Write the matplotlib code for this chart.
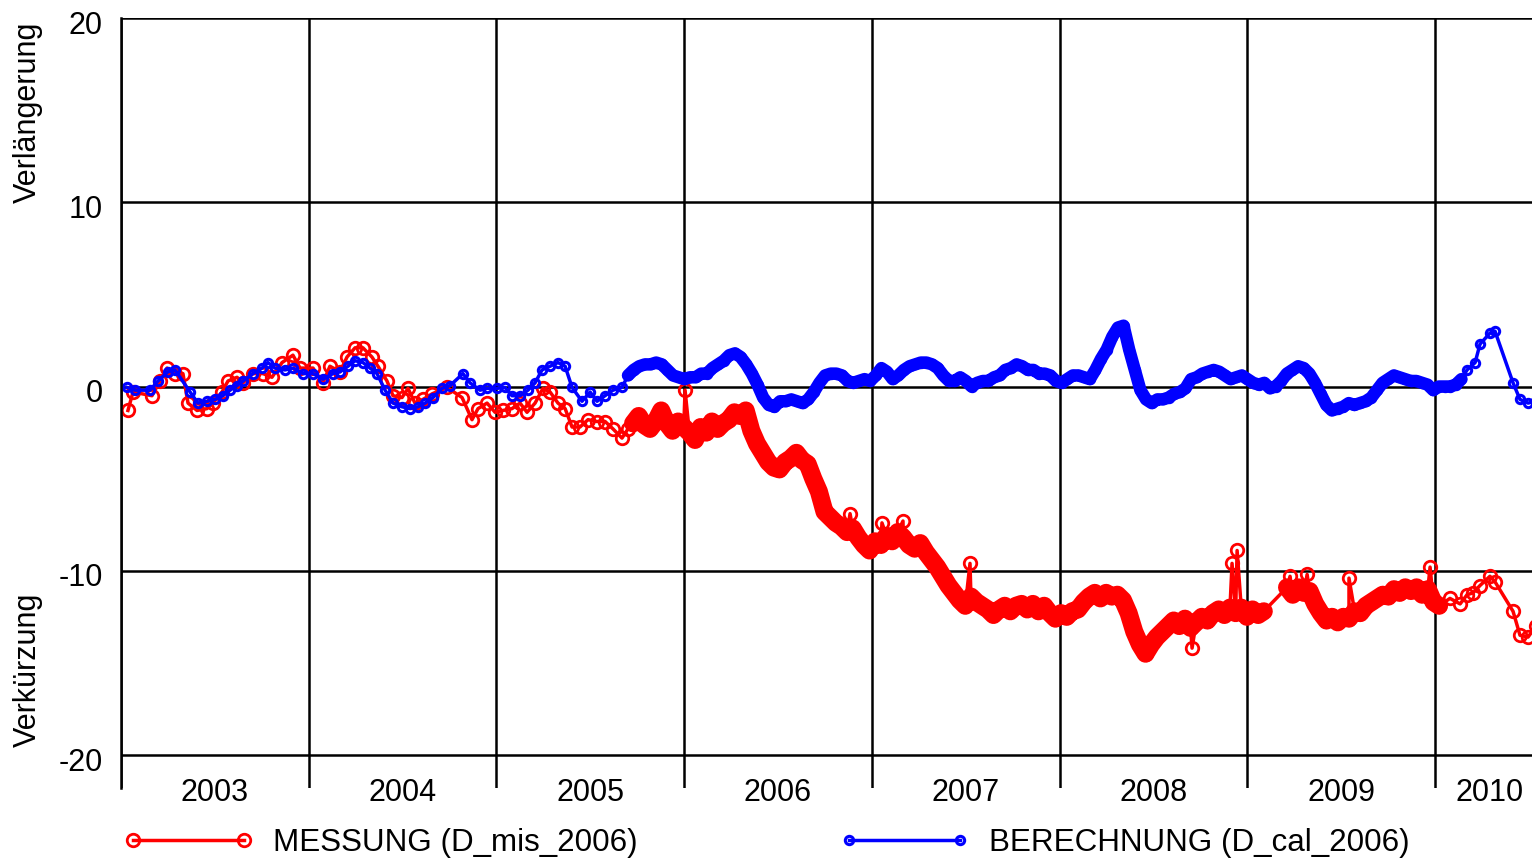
import numpy as np
import matplotlib
matplotlib.use('Agg')
import matplotlib.pyplot as plt
from matplotlib.transforms import ScaledTranslation

plt.rcParams['font.family'] = ['Liberation Sans', 'DejaVu Sans']

# Measured displacement (MESSUNG), sparse early readings (decimal year, value)
red_sparse_t = [2003.037, 2003.064, 2003.165, 2003.208, 2003.245, 2003.288, 2003.330, 2003.357,
                2003.405, 2003.458, 2003.490, 2003.538, 2003.570, 2003.618, 2003.650, 2003.703,
                2003.757, 2003.804, 2003.858, 2003.916, 2003.954, 2004.023, 2004.076, 2004.113,
                2004.167, 2004.204, 2004.247, 2004.289, 2004.337, 2004.369, 2004.417, 2004.449,
                2004.497, 2004.529, 2004.566, 2004.609, 2004.657, 2004.737, 2004.817, 2004.870,
                2004.902, 2004.950, 2004.993, 2005.035, 2005.083, 2005.126, 2005.163, 2005.206,
                2005.248, 2005.286, 2005.328, 2005.366, 2005.403, 2005.445, 2005.488, 2005.536,
                2005.579, 2005.621, 2005.669, 2005.701]
red_sparse_v = [-1.3, -0.3, -0.5, 0.3, 1.0, 0.7, 0.7, -0.9,
                -1.3, -1.2, -0.9, -0.3, 0.3, 0.5, 0.2, 0.7,
                0.7, 0.5, 1.3, 1.7, 1.0, 1.0, 0.2, 1.1,
                0.8, 1.6, 2.1, 2.1, 1.6, 1.1, 0.3, -0.5,
                -0.6, -0.1, -0.9, -0.7, -0.4, -0.05, -0.6, -1.8,
                -1.2, -0.9, -1.4, -1.3, -1.2, -0.9, -1.4, -0.9,
                -0.1, -0.3, -0.9, -1.2, -2.2, -2.2, -1.8, -1.9,
                -1.9, -2.3, -2.8, -2.3]

# dense (near-daily) measurement period, sampled every 0.03 yr
step = 0.03
red_dense1_start = 2005.728
red_dense1_v = [-2.0, -1.6, -2.1, -2.3, -1.9, -1.3, -2.0, -2.4, -1.9, -2.2,
                -2.5, -2.9, -2.2, -2.5, -1.9, -2.3, -2.0, -1.8, -1.4, -1.6,
                -1.3, -2.4, -3.1, -3.6, -4.1, -4.4, -4.5, -4.1, -3.9, -3.6,
                -4.0, -4.2, -5.0, -5.7, -6.8, -7.1, -7.4, -7.6, -7.9, -7.7,
                -8.2, -8.6, -8.9, -8.4, -8.6, -8.1, -8.4, -7.9, -8.2, -8.6,
                -8.8, -8.5, -9.0, -9.4, -9.8, -10.3, -10.8, -11.2, -11.6, -11.9,
                -11.4, -11.7, -11.9, -12.1, -12.4, -12.1, -11.9, -12.2, -11.9, -11.8,
                -12.1, -11.8, -12.2, -11.9, -12.3, -12.6, -12.3, -12.5, -12.2, -12.1,
                -11.7, -11.4, -11.2, -11.5, -11.2, -11.4, -11.3, -11.6, -12.3, -13.3,
                -14.0, -14.5, -14.0, -13.6, -13.3, -13.0, -12.7, -13.0, -12.6, -13.1,
                -12.8, -12.5, -12.7, -12.3, -12.1, -12.4, -12.0, -12.3, -12.0, -12.5,
                -12.1, -12.4, -12.2]
red_dense2_start = 2009.212
red_dense2_v = [-10.9, -11.3, -10.9, -11.2, -11.1, -11.8, -12.3, -12.7, -12.5, -12.8,
                -12.5, -12.6, -12.2, -12.3, -11.9, -11.7, -11.5, -11.3, -11.4, -11.0,
                -11.2, -10.9, -11.1, -10.9, -11.3, -11.0, -11.7, -11.9]
red_spike_t = [2006.005, 2006.884, 2007.054, 2007.166, 2007.523, 2008.706, 2008.919,
               2008.946, 2009.228, 2009.319, 2009.542, 2009.974]
red_spike_v = [-0.2, -6.9, -7.4, -7.3, -9.6, -14.2, -9.6, -8.9, -10.3, -10.2, -10.4, -9.8]
red_tail_t = [2010.080, 2010.134, 2010.171, 2010.203, 2010.240, 2010.293, 2010.320,
              2010.416, 2010.453, 2010.496, 2010.538]
red_tail_v = [-11.5, -11.8, -11.3, -11.2, -10.8, -10.3, -10.6, -12.2, -13.5, -13.6, -13.0]

# Calculated displacement (BERECHNUNG)
blue_sparse_t = [2003.032, 2003.075, 2003.155, 2003.197, 2003.250, 2003.288, 2003.368, 2003.410,
                 2003.458, 2003.501, 2003.543, 2003.581, 2003.618, 2003.650, 2003.703, 2003.751,
                 2003.783, 2003.820, 2003.874, 2003.916, 2003.970, 2004.023, 2004.076, 2004.129,
                 2004.167, 2004.209, 2004.247, 2004.289, 2004.327, 2004.364, 2004.407, 2004.449,
                 2004.497, 2004.540, 2004.582, 2004.620, 2004.662, 2004.710, 2004.753, 2004.822,
                 2004.859, 2004.913, 2004.950, 2005.003, 2005.046, 2005.083, 2005.126, 2005.168,
                 2005.206, 2005.243, 2005.286, 2005.328, 2005.366, 2005.403, 2005.456, 2005.499,
                 2005.536, 2005.579, 2005.621, 2005.669]
blue_sparse_v = [-0.05, -0.2, -0.2, 0.3, 0.8, 0.9, -0.3, -0.9,
                 -0.8, -0.7, -0.5, -0.2, 0.05, 0.3, 0.7, 1.0,
                 1.3, 1.0, 0.9, 1.0, 0.7, 0.7, 0.4, 0.7,
                 0.8, 1.1, 1.4, 1.3, 1.0, 0.7, -0.2, -0.9,
                 -1.1, -1.2, -1.1, -0.9, -0.6, -0.1, 0.05, 0.7,
                 0.2, -0.2, -0.1, -0.1, -0.05, -0.5, -0.5, -0.2,
                 0.2, 0.9, 1.1, 1.3, 1.1, -0.05, -0.8, -0.3,
                 -0.8, -0.5, -0.2, -0.05]
blue_dense_start = 2005.701
blue_dense_v = [0.6, 0.9, 1.1, 1.2, 1.2, 1.3, 1.2, 0.9, 0.6, 0.5,
                0.4, 0.5, 0.5, 0.7, 0.7, 1.0, 1.2, 1.4, 1.7, 1.8,
                1.6, 1.2, 0.7, 0.1, -0.6, -1.0, -1.1, -0.8, -0.8, -0.7,
                -0.8, -0.9, -0.7, -0.3, 0.2, 0.6, 0.7, 0.7, 0.6, 0.3,
                0.2, 0.3, 0.4, 0.3, 0.6, 1.0, 0.8, 0.4, 0.6, 0.9,
                1.1, 1.2, 1.3, 1.3, 1.2, 1.0, 0.6, 0.3, 0.3, 0.5,
                0.3, 0.0, 0.2, 0.3, 0.3, 0.5, 0.6, 0.9, 1.0, 1.2,
                1.1, 0.9, 0.9, 0.7, 0.7, 0.6, 0.3, 0.2, 0.4, 0.6,
                0.6, 0.5, 0.4, 0.9, 1.5, 2.0, 2.7, 3.2, 3.3, 2.0,
                0.9, -0.2, -0.7, -0.9, -0.7, -0.7, -0.6, -0.4, -0.3, -0.1,
                0.4, 0.5, 0.7, 0.8, 0.9, 0.8, 0.6, 0.4, 0.5, 0.6,
                0.4, 0.2, 0.1, 0.2, -0.1, 0.0, 0.3, 0.7, 0.9, 1.1,
                1.0, 0.7, 0.2, -0.4, -1.0, -1.3, -1.2, -1.1, -0.9, -1.0,
                -0.9, -0.8, -0.6, -0.2, 0.2, 0.4, 0.6, 0.5, 0.4, 0.3,
                0.3, 0.2, 0.1, -0.2, 0.0, 0.0, 0.0, 0.1, 0.4]
blue_tail_t = [2010.171, 2010.214, 2010.240, 2010.293, 2010.320, 2010.416, 2010.453,
               2010.496, 2010.538]
blue_tail_v = [0.9, 1.3, 2.3, 2.9, 3.0, 0.2, -0.7, -0.9, -0.8]

years = [2003, 2004, 2005, 2006, 2007, 2008, 2009, 2010]
year_label_pos = [2003.5, 2004.5, 2005.5, 2006.5, 2007.5, 2008.5, 2009.5, 2010.29]
yticks = [-20, -10, 0, 10, 20]

RED = '#ff0000'
BLUE = '#0000ff'

# Assemble series
red_d1_t = red_dense1_start + step * np.arange(len(red_dense1_v))
red_d2_t = red_dense2_start + step * np.arange(len(red_dense2_v))
red_t = np.concatenate([red_sparse_t, red_d1_t, red_spike_t, red_d2_t, red_tail_t])
red_v = np.concatenate([red_sparse_v, red_dense1_v, red_spike_v, red_dense2_v, red_tail_v])
order = np.argsort(red_t)
red_t, red_v = red_t[order], red_v[order]

blue_d_t = blue_dense_start + step * np.arange(len(blue_dense_v))
blue_t = np.concatenate([blue_sparse_t, blue_d_t, blue_tail_t])
blue_v = np.concatenate([blue_sparse_v, blue_dense_v, blue_tail_v])

fig = plt.figure(figsize=(15.32, 8.63), dpi=100)
ax = fig.add_axes([121 / 1532, 1 - 788 / 863, 1 - 121 / 1532, (788 - 18) / 863])

# thick underlay where readings were near-daily (dense scatter band)
band = dict(solid_capstyle='round', solid_joinstyle='round')
ax.plot(red_d1_t, red_dense1_v, color=RED, lw=13, **band)
ax.plot(red_d2_t, red_dense2_v, color=RED, lw=13, **band)
ax.plot(red_t, red_v, color=RED, lw=2.5, marker='o', ms=9,
        mfc='none', mec=RED, mew=2.0, label='MESSUNG (D_mis_2006)')

ax.plot(blue_d_t, blue_dense_v, color=BLUE, lw=9, **band)
ax.plot(blue_t, blue_v, color=BLUE, lw=2.5, marker='o', ms=6,
        mfc='none', mec=BLUE, mew=2.2, label='BERECHNUNG (D_cal_2006)')

ax.set_xlim(2003.0, 2010.517)
ax.set_ylim(-21.79, 20)

ax.set_xticks(years)
ax.set_xticklabels([])
ax.set_xticks(year_label_pos, minor=True)
ax.set_xticklabels([str(y) for y in years], minor=True, fontsize=22)
ax.tick_params(axis='x', which='both', length=0)
ax.tick_params(axis='x', which='minor', pad=-7.5)

ax.set_yticks(yticks)
ax.set_yticklabels([str(v) for v in yticks], fontsize=22)
ax.tick_params(axis='y', length=0, pad=13)
shift = ScaledTranslation(0, -3 / 72, fig.dpi_scale_trans)
for lbl in ax.get_yticklabels():
    lbl.set_transform(lbl.get_transform() + shift)

ax.grid(True, which='major', color='black', lw=1.8)
ax.set_axisbelow(True)
for side in ['bottom', 'right', 'top']:
    ax.spines[side].set_visible(False)
ax.spines['left'].set_linewidth(1.8)

fig.text(28 / 1532, 1 - 112 / 863, 'Verlängerung', rotation=90, fontsize=22,
         ha='center', va='center')
fig.text(28 / 1532, 1 - 670 / 863, 'Verkürzung', rotation=90, fontsize=22,
         ha='center', va='center')

fig.legend(loc='center left', bbox_to_anchor=(124 / 1532, 1 - 843 / 863), ncol=2,
           frameon=False, fontsize=22.6, handlelength=4.13, handletextpad=0.61,
           columnspacing=6.45, borderpad=0, borderaxespad=0, numpoints=2)

fig.savefig('out.png', dpi=100)
